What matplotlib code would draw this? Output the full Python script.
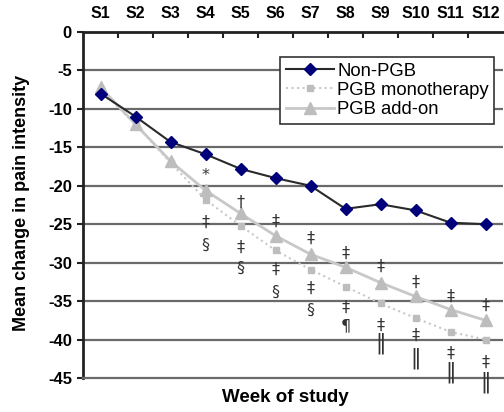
import matplotlib
matplotlib.use('Agg')
import matplotlib.pyplot as plt
from matplotlib.ticker import FixedLocator

weeks = ['S1', 'S2', 'S3', 'S4', 'S5', 'S6', 'S7', 'S8', 'S9', 'S10', 'S11', 'S12']
non_pgb = [-8.0, -11.0, -14.3, -15.9, -17.8, -19.0, -20.0, -23.0, -22.4, -23.2, -24.8, -25.0]
pgb_mono = [-7.5, -12.0, -17.0, -21.8, -25.2, -28.4, -30.9, -33.1, -35.3, -37.2, -39.0, -40.0]
pgb_addon = [-7.2, -12.0, -16.8, -20.6, -23.6, -26.5, -28.9, -30.6, -32.6, -34.4, -36.1, -37.5]

# significance marks: (week index, y value, symbol)
marks = [
    (4, -18.7, '*'), (4, -24.7, '‡'), (4, -27.7, '§'),
    (5, -22.1, '†'), (5, -28.0, '‡'), (5, -30.7, '§'),
    (6, -24.6, '‡'), (6, -30.9, '‡'), (6, -33.8, '§'),
    (7, -26.8, '‡'), (7, -33.3, '‡'), (7, -36.2, '§'),
    (8, -28.8, '‡'), (8, -35.8, '‡'), (8, -38.2, '¶'),
    (9, -30.5, '‡'), (9, -38.1, '‡'), (9, -40.5, '‖'),
    (10, -32.5, '‡'), (10, -39.4, '‡'), (10, -42.4, '‖'),
    (11, -34.4, '‡'), (11, -41.8, '‡'), (11, -44.3, '‖'),
    (12, -35.6, '‡'), (12, -42.9, '‡'), (12, -45.6, '‖'),
]

plt.rcParams['font.family'] = ['Liberation Sans', 'DejaVu Sans']

fig = plt.figure(figsize=(5.04, 4.12), dpi=100)
ax = fig.add_axes([83/504, 1 - 378/412, 420/504, 346/412])

x = list(range(1, len(weeks) + 1))

grid_c = '#6a6a6a'
for v in range(-40, 0, 5):
    ax.axhline(v, color=grid_c, lw=1.6, zorder=1)

ax.plot(x, pgb_mono, ls=':', color='#c8c8c8', lw=1.5, marker='s', ms=4.2,
        mfc='#bdbdbd', mec='#bdbdbd', label='PGB monotherapy', zorder=3)
ax.plot(x, pgb_addon, ls='-', color='#c8c8c8', lw=2, marker='^', ms=8,
        mfc='#bdbdbd', mec='#bdbdbd', label='PGB add-on', zorder=3)
ax.plot(x, non_pgb, ls='-', color='#2a2a2a', lw=1.5, marker='D', ms=6,
        mfc='#00007a', mec='#00007a', label='Non-PGB', zorder=4)

for wk, yv, sym in marks:
    fs = 15 if sym == '‖' else 11.5
    ax.text(wk, yv, sym, ha='center', va='center', fontsize=fs,
            color='#333333', family=['DejaVu Sans'], zorder=5)

ax.set_xlim(0.5, 12.5)
ax.set_ylim(-45, 0)

ax.xaxis.tick_top()
ax.set_xticks(x)
ax.set_xticklabels(weeks, fontsize=11.5, fontweight='bold')
ax.xaxis.set_minor_locator(FixedLocator([i + 0.5 for i in range(1, 12)]))
ax.tick_params(axis='x', which='major', length=0, pad=8)
ax.tick_params(axis='x', which='minor', direction='in', length=4, width=1.5, color='#222222')
ax.set_yticks(range(-45, 1, 5))
ax.set_yticklabels([str(v) for v in range(-45, 1, 5)], fontsize=12, fontweight='bold')
ax.tick_params(axis='y', direction='out', length=4, width=1.5, color='#222222', pad=4)

ax.spines['right'].set_visible(False)
ax.spines['left'].set_color('#222222')
ax.spines['left'].set_linewidth(2)
ax.spines['top'].set_color('#222222')
ax.spines['top'].set_linewidth(2)
ax.spines['bottom'].set_color(grid_c)
ax.spines['bottom'].set_linewidth(1.6)

handles, labels = ax.get_legend_handles_labels()
order = [2, 0, 1]
leg = ax.legend([handles[i] for i in order], [labels[i] for i in order],
                loc='upper left', bbox_to_anchor=(280/504, 1 - 57/412),
                bbox_transform=fig.transFigure, fontsize=13.3, frameon=True,
                fancybox=False, framealpha=1, edgecolor='#333333',
                handlelength=2.6, handletextpad=0.2, labelspacing=0.12,
                borderpad=0.3, borderaxespad=0)
leg.get_frame().set_linewidth(1.2)
leg.set_zorder(6)

fig.text(285/504, 1 - 398/412, 'Week of study', ha='center', va='center',
         fontsize=13.5, fontweight='bold')
fig.text(22/504, 1 - 203/412, 'Mean change in pain intensity', ha='center',
         va='center', rotation=90, fontsize=13, fontweight='bold')

fig.savefig('out.png', dpi=100)
